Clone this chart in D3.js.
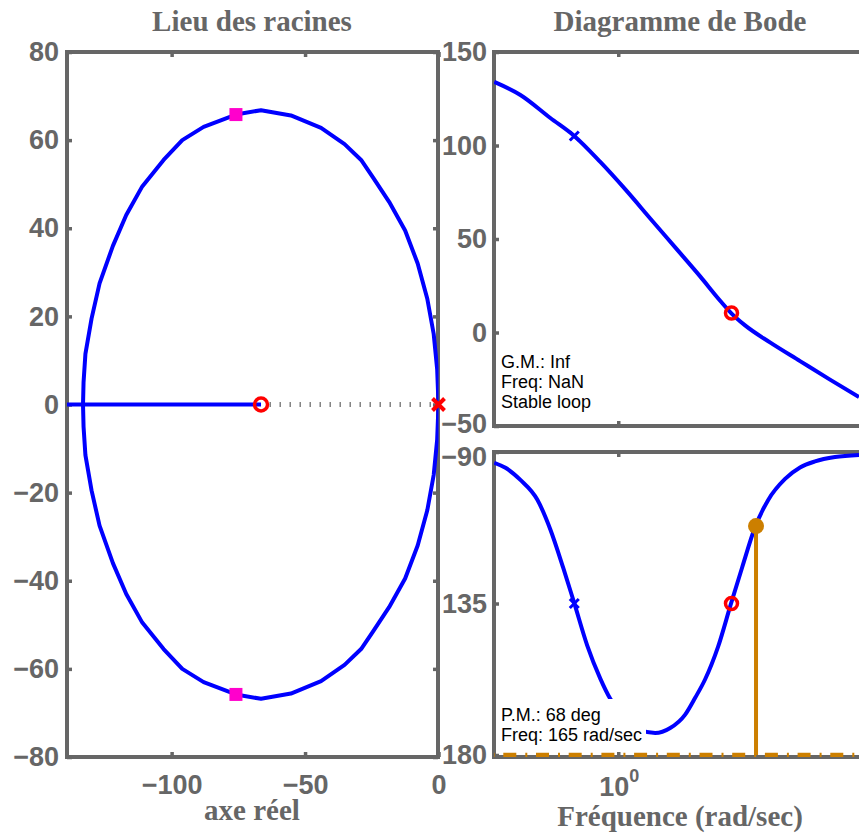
<!DOCTYPE html>
<html><head><meta charset="utf-8">
<script src="https://cdn.jsdelivr.net/npm/d3@7"></script>
<style>body{margin:0;background:#fff}svg{display:block}</style>
</head><body>
<svg id="c" width="859" height="835"></svg>
<script>
// ---------- data ----------
// Root locus branches (real, imag)
const locusUpper = [[0,0],[-0.5,8],[-1.8,16],[-4.2,24],[-7.8,32],[-12.5,39.5],[-18.5,46],[-24.5,51.5],[-29,55.5],[-35.2,59.1],[-44,62.8],[-55.3,65.6],[-66.5,66.8],[-75.9,65.8],[-88,63],[-96,60],[-103,55.5],[-111,49.5],[-117,43],[-122,36],[-127,27.5],[-130,19.5],[-132.3,11.5],[-133,5],[-133.2,0]];
const locusLower = [[0,0],[-0.5,-8],[-1.8,-16],[-4.2,-24],[-7.8,-32],[-12.5,-39.5],[-18.5,-46],[-24.5,-51.5],[-29,-55.5],[-35.2,-59.1],[-44,-62.8],[-55.3,-65.6],[-66.5,-66.8],[-75.9,-65.8],[-88,-63],[-96,-60],[-103,-55.5],[-111,-49.5],[-117,-43],[-122,-36],[-127,-27.5],[-130,-19.5],[-132.3,-11.5],[-133,-5],[-133.2,0]];
const realAxisBranch = [[-140,0],[-66.5,0]];
const olPoles = [[0,0]];
const olZeros = [[-66.5,0]];
const clPoles = [[-75.9,65.8],[-75.9,-65.8]];
const locusXTicks = [-100,-50,0];
const locusYTicks = [-80,-60,-40,-20,0,20,40,60,80];

// Bode magnitude
const magFreq = [0.0101,0.0266,0.0807,0.196,0.514,1.30,3.27,8.25,20.8,43.7,65.6,110,277,844,2560,7500];
const magDb   = [134.0,127.0,114.7,105.1,91.2,76.5,61.0,45.5,30.0,17.0,10.4,3.8,-5.3,-15.3,-25.2,-34.5];
// Bode phase
const phFreq = [0.0101,0.0153,0.0266,0.0499,0.0807,0.1306,0.196,0.317,0.514,0.744,1.296,2.258,3.935,6.855,11.94,17.3,25.05,40.5,65.6,98.6,159.5,258,484,843,1469,3083,7500];
const phDeg  = [-93.2,-94.7,-98.3,-104.2,-113.0,-124.5,-134.9,-147.5,-157.3,-163.3,-168.7,-172.5,-173.5,-172.0,-168.0,-163.0,-157.5,-147.8,-134.9,-124.3,-112.3,-104.3,-98.0,-94.6,-92.8,-91.5,-90.9];
const magTicks = [-50,0,50,100,150];
const magTickLabels = ["\u221250","0","50","100","150"];
const phTicks = [-180,-135,-90];
const phTickLabels = ["180","135","\u221290"];
const freqTicks = [1];
// markers
const poleFreq = 0.196, poleMag = 105.1, polePh = -135;
const zeroFreq = 66.5, zeroMag = 10.4, zeroPh = -135;
const wc = 165, pmPhase = -112;
const gmText = ["G.M.: Inf","Freq: NaN","Stable loop"];
const pmText = ["P.M.: 68 deg","Freq: 165 rad/sec"];

// ---------- drawing ----------
const svg = d3.select("#c");
const gray = "#666666", blue = "#0000ff", red = "#ff0000", mag = "#ff00cc", orange = "#cc7f00";
const sans = "'Liberation Sans', Arial, Helvetica, sans-serif";
const serif = "'Liberation Serif', 'Times New Roman', serif";
const tickFont = 27, titleFont = 29;

const xL = d3.scaleLinear().domain([-139.2,0]).range([67,438.5]);
const yL = d3.scaleLinear().domain([-80,80]).range([757,52]);
const xB = d3.scaleLog().domain([0.01,7500]).range([494,859]);
const yM = d3.scaleLinear().domain([-50,150]).range([426,52]);
const yP = d3.scaleLinear().domain([-180,-90]).range([755,452]);

function styleAxis(g) {
  g.select(".domain").remove();
  g.attr("font-family", sans).attr("font-size", tickFont).attr("font-weight", "bold");
  g.selectAll(".tick line").attr("stroke", gray).attr("stroke-width", 3.5);
  g.selectAll(".tick text").attr("fill", gray);
}
const fmtNum = d => d < 0 ? "\u2212" + Math.abs(d) : String(d);

// clip paths
const defs = svg.append("defs");
defs.append("clipPath").attr("id","clipL").append("rect").attr("x",67).attr("y",52).attr("width",371.5).attr("height",705);
defs.append("clipPath").attr("id","clipM").append("rect").attr("x",494).attr("y",52).attr("width",400).attr("height",374);
defs.append("clipPath").attr("id","clipP").append("rect").attr("x",494).attr("y",452).attr("width",400).attr("height",305);

// ===== Root locus =====
svg.append("rect").attr("x",67).attr("y",yL.range()[1]).attr("width",371).attr("height",yL.range()[0]-yL.range()[1])
  .attr("fill","none").attr("stroke",gray).attr("stroke-width",4);

svg.append("g").attr("transform","translate(67,0)")
  .call(d3.axisLeft(yL).tickValues(locusYTicks).tickSizeInner(-5).tickSizeOuter(0).tickPadding(8).tickFormat(fmtNum))
  .call(styleAxis);
svg.append("g").attr("transform","translate(438,0)")
  .call(d3.axisRight(yL).tickValues(locusYTicks).tickSizeInner(-5).tickSizeOuter(0).tickFormat(""))
  .call(styleAxis);
svg.append("g").attr("transform",`translate(0,${yL.range()[1]})`)
  .call(d3.axisTop(xL).tickValues(locusXTicks).tickSizeInner(-5).tickSizeOuter(0).tickFormat(""))
  .call(styleAxis);
svg.append("g").attr("transform",`translate(0,${yL.range()[0]})`)
  .call(d3.axisBottom(xL).tickValues(locusXTicks).tickSizeInner(-5).tickSizeOuter(0).tickPadding(18).tickFormat(fmtNum))
  .call(styleAxis);

const lineL = d3.line().x(d => xL(d[0])).y(d => yL(d[1]));
const gL = svg.append("g").attr("clip-path","url(#clipL)");
gL.append("line").attr("x1",xL(olZeros[0][0])).attr("x2",xL(olPoles[0][0])).attr("y1",yL(0)).attr("y2",yL(0))
  .attr("stroke","#7a7a7a").attr("stroke-width",5).attr("stroke-dasharray","1.4,8.6").attr("stroke-dashoffset",1.5);
[locusUpper, locusLower, realAxisBranch].forEach(b =>
  gL.append("path").attr("d", lineL(b)).attr("fill","none").attr("stroke",blue).attr("stroke-width",4).attr("stroke-linejoin","round"));

svg.selectAll(".zL").data(olZeros).enter().append("circle")
  .attr("cx",d=>xL(d[0])).attr("cy",d=>yL(d[1])).attr("r",6.5)
  .attr("fill","none").attr("stroke",red).attr("stroke-width",3.5);
olPoles.forEach(p => {
  const cx = xL(p[0]), cy = yL(p[1]), s = 6;
  svg.append("path").attr("d",`M${cx-s},${cy-s}L${cx+s},${cy+s}M${cx-s},${cy+s}L${cx+s},${cy-s}`)
    .attr("stroke",red).attr("stroke-width",4).attr("fill","none");
});
svg.selectAll(".cl").data(clPoles).enter().append("rect")
  .attr("x",d=>xL(d[0])-6.5).attr("y",d=>yL(d[1])-6.5).attr("width",13).attr("height",13).attr("fill",mag);

// titles / labels
function title(x, y, s) {
  svg.append("text").attr("x",x).attr("y",y).attr("text-anchor","middle")
    .attr("font-family",serif).attr("font-weight","bold").attr("font-size",titleFont).attr("fill",gray).text(s);
}
title(252, 31, "Lieu des racines");
title(252, 820, "axe réel");
title(680, 31, "Diagramme de Bode");
title(680, 826, "Fréquence (rad/sec)");

// ===== Bode frames & axes =====
const bx0 = xB.range()[0];
svg.append("rect").attr("x",bx0).attr("y",yM.range()[1]).attr("width",420).attr("height",yM.range()[0]-yM.range()[1])
  .attr("fill","none").attr("stroke",gray).attr("stroke-width",4);
svg.append("rect").attr("x",bx0).attr("y",yP.range()[1]).attr("width",420).attr("height",305)
  .attr("fill","none").attr("stroke",gray).attr("stroke-width",4);

svg.append("g").attr("transform",`translate(${bx0},0)`)
  .call(d3.axisLeft(yM).tickValues(magTicks).tickSizeInner(-5).tickSizeOuter(0).tickPadding(7).tickFormat((d,i)=>magTickLabels[i]))
  .call(styleAxis)
  .call(g => g.selectAll(".tick text").filter(d => d === -50).attr("dy","0.25em"));
svg.append("g").attr("transform",`translate(${bx0},0)`)
  .call(d3.axisLeft(yP).tickValues(phTicks).tickSizeInner(-5).tickSizeOuter(0).tickPadding(7).tickFormat((d,i)=>phTickLabels[i]))
  .call(styleAxis)
  .call(g => g.selectAll(".tick text").filter(d => d === -90).attr("dy","0.5em"));
[yM.range()[1], yP.range()[1]].forEach(y =>
  svg.append("g").attr("transform",`translate(0,${y})`)
    .call(d3.axisTop(xB).tickValues(freqTicks).tickSizeInner(-5).tickSizeOuter(0).tickFormat(""))
    .call(styleAxis));
[yM.range()[0], 757].forEach(y =>
  svg.append("g").attr("transform",`translate(0,${y})`)
    .call(d3.axisBottom(xB).tickValues(freqTicks).tickSizeInner(-5).tickSizeOuter(0).tickFormat(""))
    .call(styleAxis));
freqTicks.forEach(f => {
  const t = svg.append("text").attr("x",xB(f)-19).attr("y",796)
    .attr("font-family",sans).attr("font-weight","bold").attr("font-size",tickFont).attr("fill",gray);
  t.append("tspan").text("10");
  t.append("tspan").attr("font-size",18).attr("dy",-14).text(String(Math.round(Math.log10(f))));
});

// ===== Bode magnitude =====
const gM = svg.append("g").attr("clip-path","url(#clipM)");
const lineM = d3.line().x((d,i)=>xB(magFreq[i])).y(d=>yM(d)).curve(d3.curveMonotoneX);
gM.append("path").attr("d",lineM(magDb)).attr("fill","none").attr("stroke",blue).attr("stroke-width",4);

function xMark(g, cx, cy, s, col, w) {
  g.append("path").attr("d",`M${cx-s},${cy-s}L${cx+s},${cy+s}M${cx-s},${cy+s}L${cx+s},${cy-s}`)
    .attr("stroke",col).attr("stroke-width",w).attr("fill","none");
}
xMark(svg, xB(poleFreq), yM(poleMag), 4.5, blue, 3);
svg.append("circle").attr("cx",xB(zeroFreq)).attr("cy",yM(zeroMag)).attr("r",6)
  .attr("fill","none").attr("stroke",red).attr("stroke-width",3.5);

gmText.forEach((s,i) => svg.append("text").attr("x",501).attr("y",368+i*20)
  .attr("font-family",sans).attr("font-size",18).attr("fill","#000").text(s));

// ===== Bode phase =====
const gP = svg.append("g").attr("clip-path","url(#clipP)");
const lineP = d3.line().x((d,i)=>xB(phFreq[i])).y(d=>yP(d)).curve(d3.curveMonotoneX);
gP.append("path").attr("d",lineP(phDeg)).attr("fill","none").attr("stroke",blue).attr("stroke-width",4);
gP.append("line").attr("x1",xB.range()[0]).attr("x2",900).attr("y1",yP(-180)).attr("y2",yP(-180))
  .attr("stroke",orange).attr("stroke-width",4.5).attr("stroke-dasharray","13,9,2,8.7").attr("stroke-dashoffset",23.4);
svg.append("line").attr("x1",xB(wc)).attr("x2",xB(wc)).attr("y1",yP(pmPhase)).attr("y2",yP(-180))
  .attr("stroke",orange).attr("stroke-width",4);
svg.append("circle").attr("cx",xB(wc)).attr("cy",yP(pmPhase)).attr("r",8).attr("fill",orange);
xMark(svg, xB(poleFreq), yP(polePh), 4.5, blue, 3);
svg.append("circle").attr("cx",xB(zeroFreq)).attr("cy",yP(zeroPh)).attr("r",6)
  .attr("fill","none").attr("stroke",red).attr("stroke-width",3.5);

svg.append("rect").attr("x",497).attr("y",699).attr("width",149).attr("height",50).attr("fill","#fff");
pmText.forEach((s,i) => svg.append("text").attr("x",501).attr("y",721+i*20)
  .attr("font-family",sans).attr("font-size",18).attr("fill","#000").text(s));
</script>
</body></html>
